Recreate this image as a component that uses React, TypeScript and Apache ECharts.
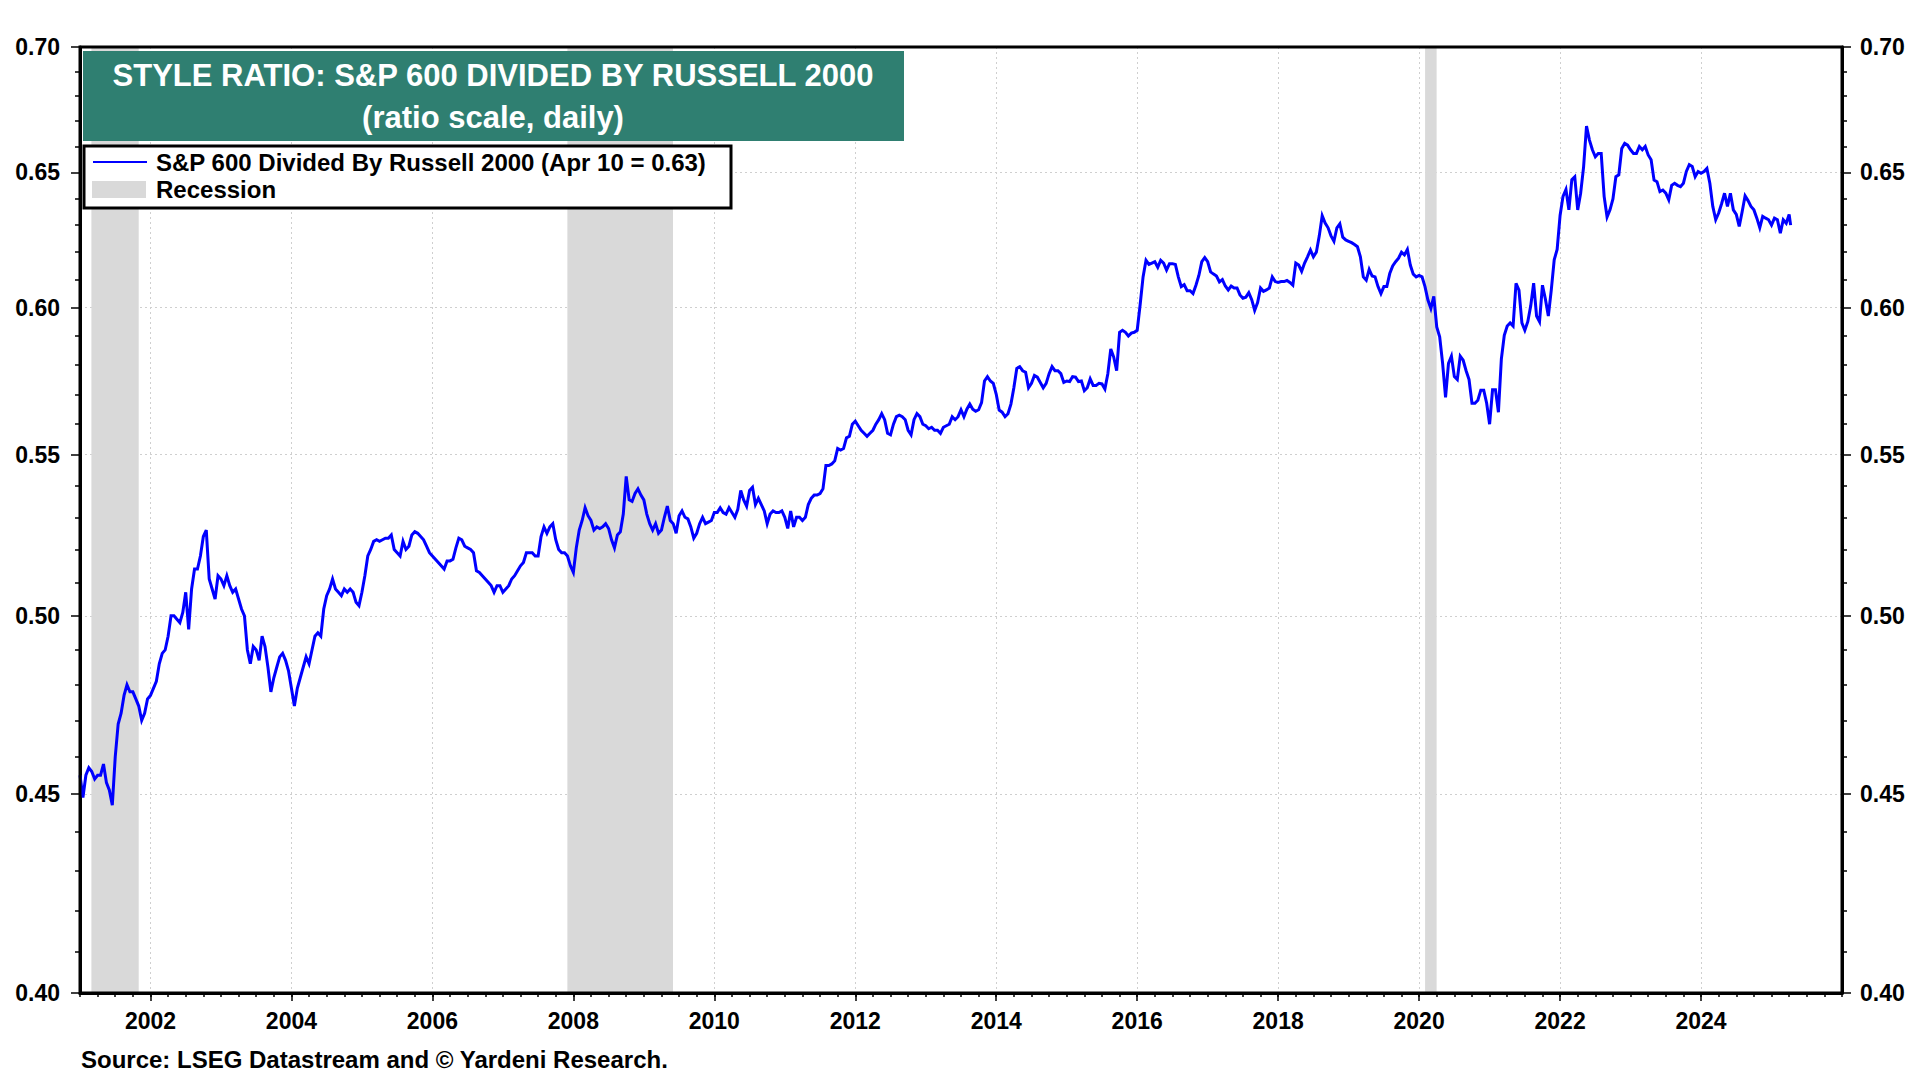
import React, { useEffect, useRef } from "react";
import * as echarts from "echarts";

// ---------- DATA (semi-monthly readings, 1st and 16th of each month) ----------
const y2001 = [0.455,0.449,0.455,0.457,0.456,0.454,0.455,0.455,0.458,0.453,0.451,0.447,0.460,0.469,0.472,0.477,0.480,0.478,0.478,0.476,0.474,0.470,0.472,0.476];
const y2002 = [0.477,0.479,0.481,0.486,0.489,0.490,0.494,0.500,0.500,0.499,0.498,0.501,0.507,0.496,0.508,0.514,0.514,0.518,0.524,0.526,0.511,0.508,0.505,0.512];
const y2003 = [0.511,0.509,0.512,0.509,0.507,0.508,0.505,0.502,0.500,0.490,0.486,0.491,0.490,0.487,0.494,0.491,0.485,0.478,0.482,0.485,0.488,0.489,0.487,0.484];
const y2004 = [0.479,0.474,0.479,0.482,0.485,0.488,0.486,0.490,0.494,0.495,0.494,0.502,0.506,0.508,0.511,0.508,0.507,0.506,0.508,0.507,0.508,0.507,0.504,0.503];
const y2005 = [0.507,0.512,0.518,0.520,0.5225,0.523,0.5225,0.523,0.5235,0.5235,0.5245,0.520,0.519,0.518,0.5225,0.520,0.521,0.5245,0.5255,0.525,0.524,0.523,0.521,0.519];
const y2006 = [0.518,0.517,0.516,0.515,0.514,0.5165,0.5165,0.517,0.5205,0.5235,0.523,0.521,0.5205,0.520,0.519,0.5135,0.513,0.512,0.511,0.510,0.509,0.507,0.509,0.509];
const y2007 = [0.507,0.508,0.509,0.511,0.512,0.5135,0.515,0.516,0.519,0.519,0.519,0.518,0.518,0.524,0.527,0.525,0.527,0.528,0.523,0.520,0.519,0.519,0.518,0.515];
const y2008 = [0.513,0.5205,0.526,0.529,0.533,0.5305,0.529,0.526,0.527,0.5265,0.527,0.528,0.5265,0.523,0.5205,0.5245,0.5255,0.531,0.543,0.5355,0.535,0.5375,0.539,0.537];
const y2009 = [0.5355,0.531,0.528,0.526,0.528,0.525,0.526,0.530,0.5335,0.529,0.528,0.525,0.5305,0.532,0.530,0.5295,0.527,0.5235,0.525,0.528,0.530,0.528,0.5285,0.529];
const y2010 = [0.5315,0.5315,0.533,0.5315,0.531,0.533,0.5315,0.530,0.5325,0.5385,0.5355,0.5335,0.5385,0.5395,0.534,0.536,0.534,0.532,0.528,0.531,0.532,0.5315,0.5315,0.532];
const y2011 = [0.530,0.5265,0.532,0.527,0.530,0.530,0.529,0.530,0.534,0.536,0.537,0.537,0.5375,0.539,0.5465,0.5465,0.547,0.548,0.552,0.5515,0.552,0.5555,0.556,0.560];
const y2012 = [0.561,0.5595,0.558,0.557,0.556,0.557,0.558,0.560,0.5615,0.5635,0.5615,0.557,0.5565,0.560,0.5625,0.563,0.5625,0.5615,0.558,0.5565,0.5615,0.5635,0.5625,0.560];
const y2013 = [0.5595,0.5585,0.559,0.558,0.558,0.557,0.559,0.5595,0.560,0.5625,0.5615,0.5625,0.5648,0.5625,0.565,0.5667,0.565,0.5643,0.5648,0.5672,0.5745,0.576,0.5745,0.5737];
const y2014 = [0.570,0.5647,0.564,0.5625,0.5635,0.5667,0.5722,0.5788,0.5794,0.578,0.5775,0.5722,0.5737,0.5764,0.5758,0.574,0.5722,0.5737,0.577,0.5794,0.578,0.578,0.577,0.574];
const y2015 = [0.5745,0.5743,0.576,0.5758,0.5743,0.5745,0.5712,0.5722,0.5752,0.573,0.573,0.5737,0.5735,0.5718,0.577,0.5855,0.5827,0.578,0.5913,0.592,0.5913,0.590,0.591,0.5913];
const y2016 = [0.592,0.601,0.611,0.617,0.6155,0.616,0.6165,0.6145,0.617,0.616,0.6135,0.6158,0.6158,0.6155,0.611,0.6075,0.6082,0.606,0.606,0.605,0.608,0.6115,0.6165,0.618];
const y2017 = [0.6165,0.6128,0.612,0.6113,0.6092,0.610,0.6077,0.6063,0.6077,0.607,0.607,0.6045,0.6033,0.6037,0.6053,0.6028,0.599,0.6018,0.607,0.6058,0.6063,0.607,0.611,0.6093];
const y2018 = [0.609,0.6093,0.6093,0.6097,0.609,0.608,0.616,0.6153,0.613,0.616,0.6183,0.6208,0.6183,0.620,0.626,0.6335,0.6308,0.629,0.626,0.624,0.629,0.6305,0.6255,0.6245];
const y2019 = [0.624,0.6235,0.6228,0.622,0.6183,0.611,0.6098,0.6137,0.6113,0.611,0.6075,0.605,0.6075,0.6075,0.6122,0.615,0.6165,0.6178,0.620,0.619,0.621,0.6153,0.612,0.611];
const y2020 = [0.6115,0.611,0.6075,0.6027,0.5997,0.604,0.5932,0.5897,0.5805,0.569,0.5805,0.583,0.576,0.575,0.583,0.5816,0.578,0.575,0.567,0.567,0.568,0.5714,0.5714,0.567];
const y2021 = [0.560,0.5715,0.5715,0.564,0.582,0.5902,0.5935,0.5946,0.5935,0.6087,0.6062,0.5946,0.592,0.595,0.6006,0.6087,0.597,0.595,0.608,0.603,0.597,0.6062,0.6172,0.621];
const y2022 = [0.6336,0.6408,0.6434,0.6357,0.6472,0.6483,0.6357,0.642,0.652,0.668,0.6625,0.6587,0.656,0.6573,0.6573,0.6408,0.633,0.6357,0.6398,0.6483,0.649,0.6592,0.6612,0.6605];
const y2023 = [0.6587,0.6573,0.6573,0.660,0.6587,0.660,0.6567,0.6548,0.647,0.6464,0.6426,0.6432,0.642,0.6395,0.645,0.6458,0.645,0.6445,0.6458,0.6503,0.6529,0.6522,0.6483,0.6503];
const y2024 = [0.6496,0.6503,0.6515,0.6458,0.637,0.632,0.6345,0.638,0.642,0.637,0.642,0.6357,0.634,0.6295,0.635,0.641,0.6392,0.637,0.6357,0.6326,0.629,0.6333,0.6326,0.632];
const y2025 = [0.630,0.6326,0.632,0.627,0.632,0.6307,0.634];

const FIRST_YEAR = 2001;
const yearlyValues = [y2001,y2002,y2003,y2004,y2005,y2006,y2007,y2008,y2009,y2010,y2011,y2012,y2013,y2014,y2015,y2016,y2017,y2018,y2019,y2020,y2021,y2022,y2023,y2024,y2025];
const lastDate = "2025-04-10";
const lastValue = 0.63;

const recessions: [string, string][] = [
  ["2001-03-01", "2001-11-01"],
  ["2007-12-01", "2009-06-01"],
  ["2020-02-01", "2020-04-01"],
];

const xMin = 2001;
const xMax = 2026;
const yearLabels = [2002, 2004, 2006, 2008, 2010, 2012, 2014, 2016, 2018, 2020, 2022, 2024];
const yMin = 0.4;
const yMax = 0.7;
const yLabels = [0.4, 0.45, 0.5, 0.55, 0.6, 0.65, 0.7];
const yMinor = [0.41,0.42,0.43,0.44,0.46,0.47,0.48,0.49,0.51,0.52,0.53,0.54,0.56,0.57,0.58,0.59,0.61,0.62,0.63,0.64,0.66,0.67,0.68,0.69];

const titleLine1 = "STYLE RATIO: S&P 600 DIVIDED BY RUSSELL 2000";
const titleLine2 = "(ratio scale, daily)";
const seriesName = "S&P 600 Divided By Russell 2000 (Apr 10 = 0.63)";
const recessionName = "Recession";
const sourceText = "Source: LSEG Datastream and \u00A9 Yardeni Research.";

// ---------- helpers ----------
function toYearFraction(d: string): number {
  const [y, m, day] = d.split("-").map(Number);
  const start = Date.UTC(y, 0, 1);
  const end = Date.UTC(y + 1, 0, 1);
  return y + (Date.UTC(y, m - 1, day) - start) / (end - start);
}

const FONT = '"Liberation Sans", Arial, Helvetica, sans-serif';
const BLUE = "#0000FF";
const TEAL = "#2F7F71";
const BAND = "#D9D9D9";
const GRIDLINE = "#CFCFCF";

export default function App() {
  const ref = useRef<HTMLDivElement>(null);

  useEffect(() => {
    if (!ref.current) return;
    const chart = echarts.init(ref.current, undefined, { renderer: "svg" });

    const points: [number, number][] = [];
    yearlyValues.forEach((arr, yi) => {
      arr.forEach((v, i) => points.push([FIRST_YEAR + yi + i / 24, v]));
    });
    points.push([toYearFraction(lastDate), lastValue]);

    const quarterTicks: number[] = [];
    for (let y = xMin; y <= xMax; y++) {
      for (let q = 0; q < 4; q++) {
        const t = y + q / 4;
        if (t <= xMax) quarterTicks.push(t);
      }
    }

    const labelText = { color: "#000", fontFamily: FONT, fontWeight: "bold" as const, fontSize: 23 };
    const tickLine = { color: "#000", width: 1.5 };
    const dotted = { color: GRIDLINE, width: 1, type: [2, 3] as any };

    const logAxisBase = { type: "log" as const, logBase: 10, min: yMin, max: yMax };

    const option: any = {
      animation: false,
      backgroundColor: "#fff",
      grid: { left: 80, top: 47, width: 1762, height: 946, containLabel: false },
      xAxis: [
        {
          type: "value", min: xMin, max: xMax, position: "bottom",
          axisLine: { show: true, onZero: false, lineStyle: { color: "#000", width: 3 } },
          axisTick: { show: true, customValues: yearLabels, length: 8, lineStyle: tickLine },
          axisLabel: { show: true, customValues: yearLabels, formatter: (v: number) => String(Math.round(v)), margin: 16, ...labelText },
          splitLine: { show: true, lineStyle: dotted },
        },
        {
          type: "value", min: xMin, max: xMax, position: "bottom",
          axisLine: { show: false },
          axisTick: { show: true, customValues: quarterTicks, length: 4, lineStyle: tickLine },
          axisLabel: { show: false },
          splitLine: { show: false },
        },
      ],
      yAxis: [
        {
          ...logAxisBase, position: "left",
          axisLine: { show: true, onZero: false, lineStyle: { color: "#000", width: 3 } },
          axisTick: { show: true, customValues: yLabels, length: 9, lineStyle: tickLine },
          axisLabel: { show: true, customValues: yLabels, formatter: (v: number) => v.toFixed(2), margin: 20, ...labelText },
          splitLine: { show: true, lineStyle: dotted },
        },
        {
          ...logAxisBase, position: "left",
          axisLine: { show: false },
          axisTick: { show: true, customValues: yMinor, length: 5, lineStyle: tickLine },
          axisLabel: { show: false },
          splitLine: { show: false },
        },
        {
          ...logAxisBase, position: "right",
          axisLine: { show: true, onZero: false, lineStyle: { color: "#000", width: 3 } },
          axisTick: { show: true, customValues: yLabels, length: 9, lineStyle: tickLine },
          axisLabel: { show: true, customValues: yLabels, formatter: (v: number) => v.toFixed(2), margin: 18, ...labelText },
          splitLine: { show: false },
        },
        {
          ...logAxisBase, position: "right",
          axisLine: { show: false },
          axisTick: { show: true, customValues: yMinor, length: 5, lineStyle: tickLine },
          axisLabel: { show: false },
          splitLine: { show: false },
        },
      ],
      series: [
        {
          name: seriesName,
          type: "line",
          xAxisIndex: 0,
          yAxisIndex: 0,
          data: points,
          symbol: "none",
          showSymbol: false,
          silent: true,
          z: 3,
          lineStyle: { color: BLUE, width: 3, join: "miter" },
          itemStyle: { color: BLUE },
          markArea: {
            silent: true,
            itemStyle: { color: BAND },
            data: recessions.map(([a, b]) => [{ xAxis: toYearFraction(a) }, { xAxis: toYearFraction(b) }]),
          },
        },
      ],
      graphic: [
        {
          type: "rect", z: 50, silent: true,
          shape: { x: 80, y: 47, width: 1762, height: 946 },
          style: { fill: "none", stroke: "#000", lineWidth: 3 },
        },
        {
          type: "rect", z: 60, silent: true,
          shape: { x: 83, y: 51, width: 821, height: 90 },
          style: { fill: TEAL },
        },
        {
          type: "text", z: 61, silent: true, x: 493, y: 75,
          style: { text: titleLine1, fill: "#fff", font: `bold 31px ${FONT}`, textAlign: "center", textVerticalAlign: "middle", align: "center", verticalAlign: "middle" },
        },
        {
          type: "text", z: 61, silent: true, x: 493, y: 117,
          style: { text: titleLine2, fill: "#fff", font: `bold 31px ${FONT}`, textAlign: "center", textVerticalAlign: "middle", align: "center", verticalAlign: "middle" },
        },
        {
          type: "rect", z: 60, silent: true,
          shape: { x: 84, y: 146, width: 647, height: 62 },
          style: { fill: "#fff", stroke: "#000", lineWidth: 3 },
        },
        {
          type: "line", z: 61, silent: true,
          shape: { x1: 93, y1: 162, x2: 147, y2: 162 },
          style: { stroke: BLUE, lineWidth: 2 },
        },
        {
          type: "rect", z: 61, silent: true,
          shape: { x: 92, y: 181, width: 54, height: 17 },
          style: { fill: BAND },
        },
        {
          type: "text", z: 61, silent: true, x: 156, y: 162,
          style: { text: seriesName, fill: "#000", font: `bold 24px ${FONT}`, textAlign: "left", textVerticalAlign: "middle", align: "left", verticalAlign: "middle" },
        },
        {
          type: "text", z: 61, silent: true, x: 156, y: 189,
          style: { text: recessionName, fill: "#000", font: `bold 24px ${FONT}`, textAlign: "left", textVerticalAlign: "middle", align: "left", verticalAlign: "middle" },
        },
        {
          type: "text", z: 61, silent: true, x: 81, y: 1059,
          style: { text: sourceText, fill: "#000", font: `bold 24px ${FONT}`, textAlign: "left", textVerticalAlign: "middle", align: "left", verticalAlign: "middle" },
        },
      ],
    };

    chart.setOption(option);
    return () => chart.dispose();
  }, []);

  return (
    <div
      ref={ref}
      style={{ position: "fixed", left: 0, top: 0, width: 1920, height: 1080, background: "#fff" }}
    />
  );
}
